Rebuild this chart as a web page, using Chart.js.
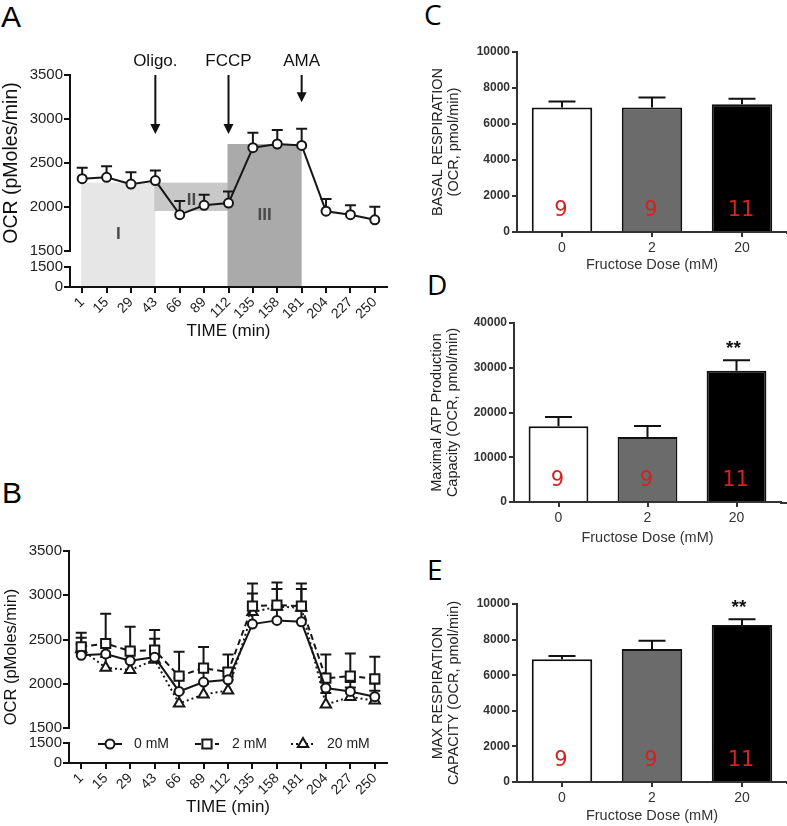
<!DOCTYPE html>
<html><head><meta charset="utf-8">
<script src="https://cdn.jsdelivr.net/npm/chart.js@4.4.0/dist/chart.umd.min.js"></script>
<style>
html,body{margin:0;padding:0;background:#fff}
body{width:787px;height:826px;position:relative;overflow:hidden;font-family:"Liberation Sans",Arial,sans-serif}
canvas{position:absolute}
.pl{position:absolute;line-height:1;color:#000;margin:0}
</style></head><body>
<div class="pl" style="left:1px;top:2px;font-size:30px;font-family:'Liberation Sans'">A</div>
<div class="pl" style="left:2px;top:478px;font-size:30px;font-family:'Liberation Sans'">B</div>
<div class="pl" style="left:424px;top:0px;font-size:28px;font-family:'Open Sans'">C</div>
<div class="pl" style="left:427px;top:270px;font-size:28px;font-family:'Open Sans'">D</div>
<div class="pl" style="left:427px;top:555px;font-size:28px;font-family:'Open Sans'">E</div>
<canvas id="cA" width="400" height="345" style="left:0;top:0"></canvas>
<canvas id="cB" width="400" height="426" style="left:0;top:400px"></canvas>
<canvas id="cC" width="387" height="280" style="left:400px;top:0"></canvas>
<canvas id="cD" width="387" height="270" style="left:400px;top:280px"></canvas>
<canvas id="cE" width="387" height="276" style="left:400px;top:550px"></canvas>
<script>
// ---------------- data ----------------
const timeLabels = ['1','15','29','43','66','89','112','135','158','181','204','227','250'];
const ocr0mM  = [2322,2337,2260,2300,1913,2019,2045,2674,2716,2700,1952,1913,1854];
const sem0mM  = [124,127,134,116,154,119,131,169,160,188,138,106,149];
const ocr2mM  = [2418,2455,2369,2380,2086,2177,2131,2877,2888,2877,2063,2086,2056];
const sem2mM  = [158,336,275,226,276,237,200,256,257,256,268,256,249];
const ocr20mM = [2390,2181,2154,2270,1777,1879,1924,2810,2870,2860,1766,1849,1811];
const sem20mM = [130,120,110,238,130,120,120,210,200,210,130,110,110];
const seriesNames = ['0 mM','2 mM','20 mM'];

const ocrUpperRange = [1500, 3500];
const ocrUpperStep = 500;
const ocrLowerRange = [0, 1500];

const phaseNames = ['I','II','III'];
const phaseStart = [0, 3, 6];
const phaseEnd   = [3, 6, 9];
const phaseLow   = [0, 1955, 0];
const phaseHigh  = [2277, 2277, 2716];
const phaseLabelAt = [1685, 2080, 1910];

const injNames = ['Oligo.', 'FCCP', 'AMA'];
const injAt    = [3, 6, 9];
const injTip   = [2830, 2830, 3190];

const doseLabels = ['0','2','20'];
const nPerGroup  = ['9','9','11'];
const basalMean = [6910, 6910, 7100];
const basalSem  = [335, 560, 297];
const basalSig  = ['', '', ''];
const atpMean = [16900, 14500, 29350];
const atpSem  = [2080, 2460, 2300];
const atpSig  = ['', '', '**'];
const maxMean = [6890, 7470, 8820];
const maxSem  = [186, 467, 321];
const maxSig  = ['', '', '**'];
const barRange10k = [0, 10000], barStep10k = 2000;
const barRange40k = [0, 40000], barStep40k = 10000;

// ---------------- helpers ----------------
const F = "'Liberation Sans', Arial, Helvetica, sans-serif";
Chart.defaults.font.family = F;
Chart.defaults.color = '#222';
Chart.defaults.animation = false;
const plain = (v) => String(v);

function makeErrorBars(errs, cfg) {
  function draw(chart) {
    const ctx = chart.ctx;
    ctx.save();
    ctx.strokeStyle = cfg.color; ctx.lineWidth = cfg.width; ctx.setLineDash([]);
    chart.data.datasets.forEach((ds, i) => {
      const e = errs[i]; if (!e) return;
      const meta = chart.getDatasetMeta(i);
      const ys = chart.scales[meta.yAxisID];
      meta.data.forEach((el, j) => {
        const v = ds.data[j];
        const x = el.x;
        const yb = ys.getPixelForValue(v), yt = ys.getPixelForValue(v + e[j]);
        ctx.beginPath();
        ctx.moveTo(x, yb); ctx.lineTo(x, yt);
        ctx.moveTo(x - cfg.cap / 2, yt); ctx.lineTo(x + cfg.cap / 2, yt);
        ctx.stroke();
      });
    });
    ctx.restore();
  }
  return { id: 'errorBars',
    beforeDatasetsDraw(c) { if (cfg.under) draw(c); },
    afterDatasetsDraw(c) { if (!cfg.under) draw(c); } };
}

// rotated y title for the broken axis; centred either on upper part or on whole axis
function makeOcrTitle(size, x, whole) {
  return { id: 'ocrTitle', afterDraw(chart) {
    const ctx = chart.ctx, yu = chart.scales.y, yl = chart.scales.y0;
    const cy = whole ? (yu.top + yl.bottom) / 2 : (yu.top + yu.bottom) / 2;
    ctx.save();
    ctx.translate(x, cy);
    ctx.rotate(-Math.PI / 2);
    ctx.fillStyle = '#111'; ctx.font = size + 'px ' + F; ctx.textAlign = 'center'; ctx.textBaseline = 'middle';
    ctx.fillText('OCR (pMoles/min)', 0, 0);
    ctx.restore();
  }};
}

function brokenScales(weights, axisWidth) {
  const tickFont = { size: 15 };
  const grid = { display: true, drawOnChartArea: false, tickLength: 6, color: '#111', lineWidth: 2 };
  const border = { display: true, color: '#111', width: 2 };
  const fit = (s) => { s.width = axisWidth; };
  return {
    y:  { type: 'linear', position: 'left', stack: 'ocr', stackWeight: weights[0], weight: 3,
          min: ocrUpperRange[0], max: ocrUpperRange[1],
          ticks: { stepSize: ocrUpperStep, font: tickFont, color: '#222', padding: 1, autoSkip: false, callback: plain },
          grid: grid, border: border, afterFit: fit },
    yg: { type: 'linear', position: 'left', stack: 'ocr', stackWeight: weights[1], weight: 2,
          min: 0, max: 1, ticks: { display: false }, grid: { display: false },
          border: { display: false }, afterFit: fit },
    y0: { type: 'linear', position: 'left', stack: 'ocr', stackWeight: weights[2], weight: 1,
          min: ocrLowerRange[0], max: ocrLowerRange[1],
          ticks: { stepSize: ocrLowerRange[1] - ocrLowerRange[0], font: tickFont, color: '#222', padding: 1, autoSkip: false, callback: plain },
          grid: grid, border: border, afterFit: fit }
  };
}

function timeX(height, titlePadBottom) {
  return { type: 'category', offset: true,
    grid: { display: true, drawOnChartArea: false, offset: false, tickLength: 6, color: '#111', lineWidth: 2 },
    border: { color: '#111', width: 2 },
    ticks: { autoSkip: false, minRotation: 45, maxRotation: 45, font: { size: 14 }, color: '#222', padding: 1 },
    title: { display: true, text: 'TIME (min)', font: { size: 17 }, color: '#111', padding: { top: 0, bottom: titlePadBottom } },
    afterFit: (s) => { s.height = height; } };
}

function lineDs(data, style, radius, dash) {
  return { data: data, yAxisID: 'y', borderColor: '#161616', borderWidth: 2, borderDash: dash,
    pointStyle: style, pointRadius: radius, pointBorderWidth: 2, pointBackgroundColor: '#fff',
    pointBorderColor: '#161616', tension: 0, clip: false };
}

// ---------------- Panel A ----------------
const phasePlugin = { id: 'phases', beforeDraw(chart) {
  const ctx = chart.ctx, xs = chart.scales.x, yu = chart.scales.y, yl = chart.scales.y0;
  const fills = ['#e6e6e6', '#c8c8c8', '#aaaaaa'];
  ctx.save();
  phaseNames.forEach((nm, k) => {
    const x0 = xs.getPixelForValue(phaseStart[k]) - 1, x1 = xs.getPixelForValue(phaseEnd[k]);
    const top = yu.getPixelForValue(phaseHigh[k]);
    const bot = phaseLow[k] < ocrUpperRange[0] ? yl.getPixelForValue(phaseLow[k]) : yu.getPixelForValue(phaseLow[k]);
    ctx.fillStyle = fills[k];
    ctx.fillRect(x0, top, x1 - x0, bot - top);
    ctx.fillStyle = '#4a4a4a';
    ctx.font = 'bold 17px ' + F;
    ctx.textAlign = 'center'; ctx.textBaseline = 'middle';
    ctx.fillText(nm, (x0 + x1) / 2, yu.getPixelForValue(phaseLabelAt[k]));
  });
  ctx.restore();
}};
const injPlugin = { id: 'inj', afterDraw(chart) {
  const ctx = chart.ctx, xs = chart.scales.x, yu = chart.scales.y;
  ctx.save();
  ctx.strokeStyle = '#111'; ctx.fillStyle = '#111'; ctx.lineWidth = 2;
  injNames.forEach((nm, k) => {
    const x = xs.getPixelForValue(injAt[k]);
    const yTip = yu.getPixelForValue(injTip[k]);
    const y0 = chart.chartArea.top;
    ctx.beginPath(); ctx.moveTo(x, y0); ctx.lineTo(x, yTip - 8); ctx.stroke();
    ctx.beginPath(); ctx.moveTo(x - 5, yTip - 10); ctx.lineTo(x + 5, yTip - 10); ctx.lineTo(x, yTip); ctx.closePath(); ctx.fill();
    ctx.font = '17px ' + F; ctx.textAlign = 'center'; ctx.textBaseline = 'alphabetic';
    ctx.fillText(nm, x, y0 - 9);
  });
  ctx.restore();
}};

new Chart(document.getElementById('cA'), {
  type: 'line',
  data: { labels: timeLabels, datasets: [ lineDs(ocr0mM, 'circle', 4.5, []) ] },
  options: { responsive: false, animation: false,
    layout: { padding: { left: 0, right: 13, top: 75, bottom: 0 } },
    plugins: { legend: { display: false }, tooltip: { enabled: false } },
    scales: Object.assign({ x: timeX(58, 3) }, brokenScales([176, 16, 20], 70)) },
  plugins: [phasePlugin, makeErrorBars([sem0mM], { cap: 11, width: 2, color: '#161616', under: true }), injPlugin, makeOcrTitle(19.5, 12, false)]
});

// ---------------- Panel B ----------------
const legendB = { id: 'legB', afterDraw(chart) {
  const ctx = chart.ctx;
  const y = chart.chartArea.bottom - 19;
  const cx = [110, 207, 303], tx = [134, 232, 327];
  const styles = ['circle', 'rect', 'triangle'], radii = [4.5, 6.5, 6], dashes = [[], [6, 4], [2, 3]];
  ctx.save();
  seriesNames.forEach((nm, k) => {
    ctx.strokeStyle = '#161616'; ctx.lineWidth = 2; ctx.setLineDash(dashes[k]);
    ctx.beginPath(); ctx.moveTo(cx[k] - 12, y); ctx.lineTo(cx[k] + 12, y); ctx.stroke();
    ctx.setLineDash([]); ctx.fillStyle = '#fff';
    Chart.helpers.drawPoint(ctx, { pointStyle: styles[k], radius: radii[k], borderWidth: 2, rotation: 0 }, cx[k], y);
    ctx.fillStyle = '#222'; ctx.font = '14px ' + F; ctx.textAlign = 'left'; ctx.textBaseline = 'middle';
    ctx.fillText(nm, tx[k], y);
  });
  ctx.restore();
}};

new Chart(document.getElementById('cB'), {
  type: 'line',
  data: { labels: timeLabels, datasets: [
    lineDs(ocr0mM, 'circle', 4.5, []),
    lineDs(ocr2mM, 'rect', 6.5, [6, 4]),
    lineDs(ocr20mM, 'triangle', 6, [2, 3]) ] },
  options: { responsive: false, animation: false,
    layout: { padding: { left: 0, right: 13, top: 151, bottom: 0 } },
    plugins: { legend: { display: false }, tooltip: { enabled: false } },
    scales: Object.assign({ x: timeX(63, 8) }, brokenScales([177, 15, 20], 69)) },
  plugins: [makeErrorBars([sem0mM, sem2mM, sem20mM], { cap: 11, width: 2, color: '#161616', under: true }), legendB, makeOcrTitle(16.5, 11, true)]
});

// ---------------- Panels C, D, E ----------------
function makeBarLabels(means, sems, ns, sigs) {
  return { id: 'barLabels', afterDatasetsDraw(chart) {
    const ctx = chart.ctx, ys = chart.scales.y;
    const meta = chart.getDatasetMeta(0);
    ctx.save();
    meta.data.forEach((bar, j) => {
      ctx.fillStyle = '#d42222'; ctx.font = '21px "DejaVu Sans"';
      ctx.textAlign = 'center'; ctx.textBaseline = 'middle';
      ctx.fillText(ns[j], bar.x - 1, chart.chartArea.bottom - 21);
      if (sigs[j]) {
        ctx.fillStyle = '#111'; ctx.font = 'bold 19px ' + F; ctx.textBaseline = 'alphabetic';
        ctx.fillText(sigs[j], bar.x - 3, ys.getPixelForValue(means[j] + sems[j]) - 6);
      }
    });
    ctx.restore();
  }, afterDraw(chart) {
    const ctx = chart.ctx, a = chart.chartArea;
    ctx.save(); ctx.strokeStyle = '#333'; ctx.lineWidth = 2;
    ctx.beginPath(); ctx.moveTo(a.right - 1, a.bottom + 1); ctx.lineTo(chart.width, a.bottom + 1); ctx.stroke();
    ctx.restore();
  }};
}

function barChart(id, means, sems, sigs, range, step, cfg) {
  new Chart(document.getElementById(id), {
    type: 'bar',
    data: { labels: doseLabels, datasets: [{ data: means,
      backgroundColor: ['#ffffff', '#6b6b6b', '#000000'], borderColor: '#111', borderWidth: 2,
      barPercentage: 0.672, categoryPercentage: 1 }] },
    options: { responsive: false, animation: false,
      layout: { padding: { left: 0, right: cfg.padRight, top: cfg.padTop, bottom: 0 } },
      plugins: { legend: { display: false }, tooltip: { enabled: false } },
      scales: {
        x: { grid: { display: true, drawOnChartArea: false, offset: false, tickLength: 5, color: '#333', lineWidth: 2 },
             border: { color: '#333', width: 2 },
             ticks: { font: { size: 14 }, color: '#333', padding: 3 },
             title: { display: true, text: 'Fructose Dose (mM)', font: { size: 14.5 }, color: '#333', padding: { top: 0, bottom: cfg.xTitlePad } },
             afterFit: (s) => { s.height = cfg.xHeight; } },
        y: { min: range[0], max: range[1],
             ticks: { stepSize: step, font: { size: 12, weight: 'bold' }, color: '#333', padding: 2, callback: plain },
             grid: { display: true, drawOnChartArea: false, tickLength: 5, color: '#333', lineWidth: 2 },
             border: { color: '#333', width: 2 },
             title: { display: true, text: cfg.yTitle, font: { size: 14.5, lineHeight: 1.12 }, color: '#222', padding: { top: cfg.yTitlePad, bottom: 0 } },
             afterFit: (s) => { s.width = cfg.yWidth; } }
      } },
    plugins: [makeErrorBars([sems], { cap: 27, width: 2, color: '#111', under: false }), makeBarLabels(means, sems, nPerGroup, sigs)]
  });
}

barChart('cC', basalMean, basalSem, basalSig, barRange10k, barStep10k,
  { padRight: 0, padTop: 52, xHeight: 48, xTitlePad: 6, yWidth: 117, yTitlePad: 30,
    yTitle: ['BASAL RESPIRATION', '(OCR, pmol/min)'] });
barChart('cD', atpMean, atpSem, atpSig, barRange40k, barStep40k,
  { padRight: 6, padTop: 43, xHeight: 48, xTitlePad: 3, yWidth: 114, yTitlePad: 29,
    yTitle: ['Maximal ATP Production', 'Capacity (OCR, pmol/min)'] });
barChart('cE', maxMean, maxSem, maxSig, barRange10k, barStep10k,
  { padRight: 0, padTop: 54, xHeight: 44, xTitlePad: 1, yWidth: 117, yTitlePad: 30,
    yTitle: ['MAX RESPIRATION', 'CAPACITY (OCR, pmol/min)'] });
</script>
</body></html>
